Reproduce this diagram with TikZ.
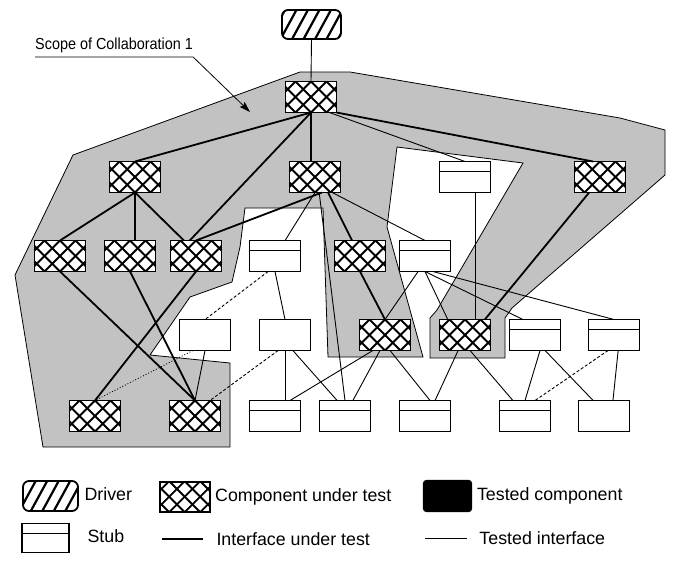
\documentclass[tikz,border=0pt]{standalone}
\usepackage{fontspec}
\setmainfont{Liberation Sans}
\newfontfamily\scopefont{Liberation Sans}[FakeStretch=0.9]
\usetikzlibrary{arrows.meta}

\newcommand{\lgdfont}{\fontsize{17.8pt}{21pt}\selectfont}

\tikzset{
  box/.style={rectangle,draw,line width=1.2pt,fill=white,minimum width=51pt,minimum height=31pt,inner sep=0pt,outer sep=0pt},
  cutbox/.style={box,line width=1.8pt,path picture={
    \foreach \k in {-4,...,4}{
      \draw[line width=1.9pt] ([xshift=\k*15.5pt]path picture bounding box.center) ++(-30pt,-30pt) -- ++(60pt,60pt);
      \draw[line width=1.9pt] ([xshift=\k*15.5pt]path picture bounding box.center) ++(-30pt,30pt) -- ++(60pt,-60pt);
    }}},
  stubbox/.style={box,path picture={\draw[line width=1.2pt] ([yshift=-10pt]path picture bounding box.north west) -- ([yshift=-10pt]path picture bounding box.north east);}},
  plainbox/.style={box},
  drvbox/.style={box,rounded corners=6pt,line width=1.8pt,path picture={
    \foreach \k in {-5,...,5}{
      \draw[line width=2.2pt] ([xshift=\k*11.5pt]path picture bounding box.center) ++(-12pt,-22pt) -- ++(24pt,44pt);
    }}},
  donebox/.style={box,fill=black,rounded corners=3pt},
  ut/.style={line width=1.8pt},
  ti/.style={line width=0.9pt},
}

\begin{document}
\begin{tikzpicture}[x=1pt,y=-1pt,every label/.style={font=\lgdfont,text height=13pt,text depth=3.5pt}]
\useasboundingbox (0,0) rectangle (673,565);

% scope of collaboration
\fill[black!24,draw=black,line width=0.8pt] (73,155) -- (300,72) -- (350,72) -- (620,118) -- (665,130)
  -- (665,175) -- (512,308) -- (505,318) -- (505,358) -- (430,358) -- (430,318) -- (437,310)
  -- (523,163) -- (397,147) -- (387,227) -- (423,357) -- (328,357) -- (323,208) -- (245,208)
  -- (240,247) -- (232,282) -- (190,297) -- (150,355) -- (230,363) -- (230,447) -- (43,447)
  -- (15,275) -- cycle;

\node[font=\scopefont\fontsize{16pt}{19pt}\selectfont,anchor=south west,inner xsep=0pt,inner ysep=3.5pt] (scope) at (35,57) {Scope of Collaboration 1};
\coordinate (tip) at (250,112);
\draw[line width=0.8pt,-{Stealth[length=11pt,width=7pt,inset=2pt]}] (scope.south west) -- (scope.south east) -- (tip);

% components
\node[drvbox,minimum width=59pt,minimum height=29pt] (drv) at (311.5,24.5) {};
\node[cutbox] (a0) at (311,97) {};

\node[cutbox] (a1) at (135,177) {};
\node[cutbox] (a2) at (315,177) {};
\node[stubbox] (a3) at (465,177) {};
\node[cutbox] (a4) at (600,177) {};

\node[cutbox] (b1) at (60,256) {};
\node[cutbox] (b2) at (130,256) {};
\node[cutbox] (b3) at (196,256) {};
\node[stubbox] (b4) at (275,256) {};
\node[cutbox] (b5) at (360,256) {};
\node[stubbox] (b6) at (425,256) {};

\node[plainbox] (c1) at (205,335) {};
\node[plainbox] (c2) at (285,335) {};
\node[cutbox] (c3) at (385,335) {};
\node[cutbox] (c4) at (465,335) {};
\node[stubbox] (c5) at (535,335) {};
\node[stubbox] (c6) at (614,335) {};

\node[cutbox] (d1) at (95,416) {};
\node[cutbox] (d2) at (195,416) {};
\node[stubbox] (d3) at (275,416) {};
\node[stubbox] (d4) at (345,416) {};
\node[stubbox] (d5) at (425,416) {};
\node[stubbox] (d6) at (525,416) {};
\node[plainbox] (d7) at (604,416) {};

% interfaces under test
\draw[ut] (a0.south) -- (a1.north);
\draw[ut] (a0.south) -- (a0.south |- a2.north);
\draw[ut] (a0.south) -- (b3.112);
\draw[ut] (a0.south east) -- (a4.114);
\draw[ut] (a1.south) -- (b1.north);
\draw[ut] (a1.south) -- (a1.south |- b2.north);
\draw[ut] (a1.south) -- (b3.128);
\draw[ut] (a2.-66) -- (b3.north);
\draw[ut] (a2.-50) -- (b5.117);
\draw[ut] (a4.-125) -- (c4.38);
\draw[ut] (b1.south) -- (d2.north);
\draw[ut] (b2.south) -- (d2.north);
\draw[ut] (b3.south) -- (d1.north);
\draw[ut] (b5.south) -- (c3.north);

% tested interfaces
\draw[ti] (drv.south) -- (a0.north);
\draw[ti] (a0.-40) -- (a3.north);
\draw[ti] (a2.south) -- (b4.57);
\draw[ti] (a2.-42) -- (b6.north);
\draw[ti] (a2.-75) -- (d4.north);
\draw[ti] (a3.-57) -- (c4.57);
\draw[ti] (b4.south) -- (c2.north);
\draw[ti] (b6.-114) -- (c3.north);
\draw[ti] (b6.south) -- (c4.138);
\draw[ti] (b6.south) -- (c5.128);
\draw[ti] (b6.-63) -- (c6.north);
\draw[ti] (c1.south) -- (d2.north);
\draw[ti] (c2.south) -- (c2.south |- d3.north);
\draw[ti] (c2.-63) -- (d4.117);
\draw[ti] (c3.-128) -- (d3.46);
\draw[ti] (c3.-108) -- (d4.63);
\draw[ti] (c3.-72) -- (d5.72);
\draw[ti] (c4.-114) -- (d5.57);
\draw[ti] (c4.-72) -- (d6.128);
\draw[ti] (c5.-72) -- (d6.north);
\draw[ti] (c5.-57) -- (d7.125);
\draw[ti] (c6.-75) -- (d7.60);
\draw[ti,dash pattern=on 3pt off 2pt] (b4.-114) -- (c1.north);
\draw[ti,dash pattern=on 3pt off 2pt] (c2.-114) -- (d2.46);
\draw[ti,dash pattern=on 3pt off 2pt] (c6.-111) -- (d6.57);
\draw[ti,dotted] (c1.-128) -- (d1.north);

% legend
\node[drvbox,minimum width=55pt,minimum height=30pt,label={[label distance=3pt]right:Driver}] (l1) at (50.5,496) {};
\node[cutbox,minimum width=50pt,minimum height=30pt,label={[label distance=2pt]right:Component under test}] (l2) at (184.7,496.7) {};
\node[donebox,minimum width=48pt,minimum height=31pt,label={[label distance=2pt]right:Tested component}] (l3) at (447.5,496) {};
\node[stubbox,minimum width=47pt,minimum height=29pt,label={[label distance=15pt]right:Stub}] (l4) at (45.5,538) {};
\coordinate (l5a) at (161.7,539);
\coordinate (l5b) at (203.3,539);
\draw[ut] (l5a) -- (l5b) node[right=9pt,font=\lgdfont] (l5) {Interface under test};
\coordinate (l6a) at (425,538.3);
\coordinate (l6b) at (466.7,538.3);
\draw[ti] (l6a) -- (l6b) node[right=9pt,font=\lgdfont] (l6) {Tested interface};
\end{tikzpicture}
\end{document}
